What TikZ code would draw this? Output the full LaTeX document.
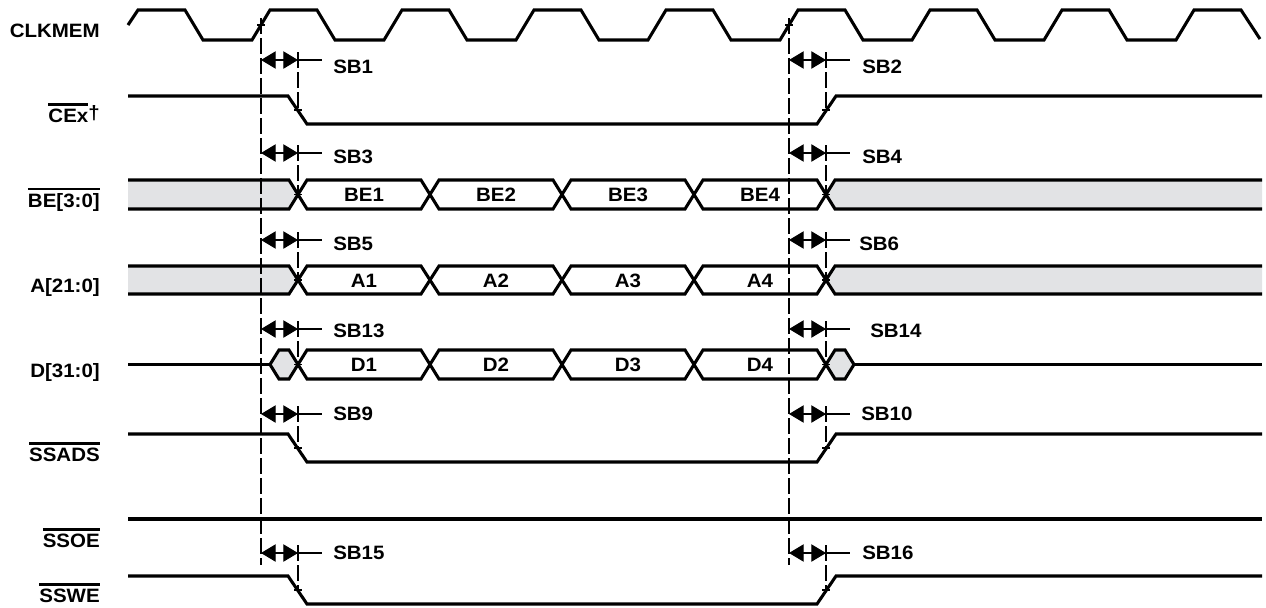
\documentclass[tikz,border=0pt]{standalone}
\usepackage{fontspec}
\setmainfont{Liberation Sans}[FakeStretch=1.06]
\usetikzlibrary{arrows.meta}
\definecolor{busgray}{RGB}{226,227,229}
\newcommand{\ovl}[1]{\vbox{\hrule height 1.6pt\kern 2.2pt\hbox{#1}}}

\begin{document}
\begin{tikzpicture}[x=0.75pt, y=-0.75pt,
    sig/.style={line width=2.3pt},
    guide/.style={line width=0.8pt, dash pattern=on 12pt off 3pt},
    tick/.style={line width=0.8pt},
    span/.style={line width=0.8pt, {Triangle[length=11pt,width=13pt]}-{Triangle[length=11pt,width=13pt]}},
    lab/.style={anchor=base east, inner sep=0pt, font=\bfseries\fontsize{14.5}{16}\selectfont},
    tlab/.style={anchor=base west, inner sep=0pt, font=\bfseries\fontsize{14.5}{16}\selectfont},
    val/.style={anchor=base, inner sep=0pt, font=\bfseries\fontsize{14.5}{16}\selectfont}
]
\useasboundingbox (0,0) rectangle (1266,607);

% Nomi dei segnali
\node[lab] (clk) at (100,37) {CLKMEM};
\node[lab] (cex) at (100,122) {\ovl{CEx}\raisebox{2pt}{†}};
\node[lab] (be) at (100,207) {\ovl{BE[3:0]}};
\node[lab] (addr) at (100,292) {A[21:0]};
\node[lab] (data) at (100,377) {D[31:0]};
\node[lab] (ssads) at (100,461) {\ovl{SSADS}};
\node[lab] (ssoe) at (100,547) {\ovl{SSOE}};
\node[lab] (sswe) at (100,602) {\ovl{SSWE}};

% Clock
\draw[sig] (128,25) -- (138,10)
    \foreach \x in {138,270,...,1062} {
        -- (\x+47,10) -- (\x+65,40) -- (\x+114,40) -- (\x+132,10)
    }
    -- (1241,10) -- (1260,39);

% Segnali di controllo
\draw[sig] (128,96) -- (288,96) -- (307,124) -- (817,124) -- (836,96) -- (1262,96);
\draw[sig] (128,434) -- (288,434) -- (307,462) -- (817,462) -- (836,434) -- (1262,434);
\draw[sig] (128,519) -- (1262,519);
\draw[sig] (128,576) -- (288,576) -- (307,604) -- (817,604) -- (836,576) -- (1262,576);

% Bus non validi (BE, A)
\foreach \yt/\ym/\yb in {180/194.5/209, 266/280/294} {
    \fill[busgray] (128,\yt) -- (289,\yt) -- (298,\ym) -- (289,\yb) -- (128,\yb) -- cycle;
    \draw[sig] (128,\yt) -- (289,\yt) -- (298,\ym) -- (289,\yb) -- (128,\yb);
    \fill[busgray] (1262,\yt) -- (835,\yt) -- (826,\ym) -- (835,\yb) -- (1262,\yb) -- cycle;
    \draw[sig] (1262,\yt) -- (835,\yt) -- (826,\ym) -- (835,\yb) -- (1262,\yb);
}

% Bus D
\draw[sig] (128,364.5) -- (270,364.5);
\draw[sig, fill=busgray] (270,364.5) -- (279,350) -- (289,350) -- (298,364.5) -- (289,379) -- (279,379) -- cycle;
\draw[sig, fill=busgray] (826,364.5) -- (835,350) -- (845,350) -- (854,364.5) -- (845,379) -- (835,379) -- cycle;
\draw[sig] (854,364.5) -- (1262,364.5);

% Dati validi
\foreach \yt/\ym/\yb/\nm in {180/194.5/209/BE, 266/280/294/A, 350/364.5/379/D} {
    \foreach \i/\cx in {1/298, 2/430, 3/562, 4/694} {
        \draw[sig] (\cx,\ym) -- (\cx+9,\yt) -- (\cx+123,\yt) -- (\cx+132,\ym) -- (\cx+123,\yb) -- (\cx+9,\yb) -- cycle;
        \node[val] (\nm\i) at (\cx+66,\ym+7) {\nm\i};
    }
}

% Linee di riferimento
\draw[guide] (261,18) -- (261,565);
\draw[guide] (789,18) -- (789,565);
\draw[tick] (257,25) -- (265,25);
\draw[tick] (785,25) -- (793,25);

% Tempi
\foreach \ya/\yc/\yl/\ll/\lr/\xr in {60/110/73/SB1/SB2/862, 153/194.5/163/SB3/SB4/862,
        240/280/250/SB5/SB6/859, 329/364.5/337/SB13/SB14/870,
        414/448/420/SB9/SB10/861, 553/590/559/SB15/SB16/862} {
    \draw[span] (261,\ya) -- (298,\ya);
    \draw[tick] (298,\ya) -- (322,\ya);
    \draw[guide] (298,\ya-8) -- (298,\yc);
    \draw[tick] (294,\yc) -- (302,\yc);
    \node[tlab] (\ll) at (333,\yl) {\ll};
    \draw[span] (789,\ya) -- (826,\ya);
    \draw[tick] (826,\ya) -- (850,\ya);
    \draw[guide] (826,\ya-8) -- (826,\yc);
    \draw[tick] (822,\yc) -- (830,\yc);
    \node[tlab] (\lr) at (\xr,\yl) {\lr};
}

\end{tikzpicture}
\end{document}
